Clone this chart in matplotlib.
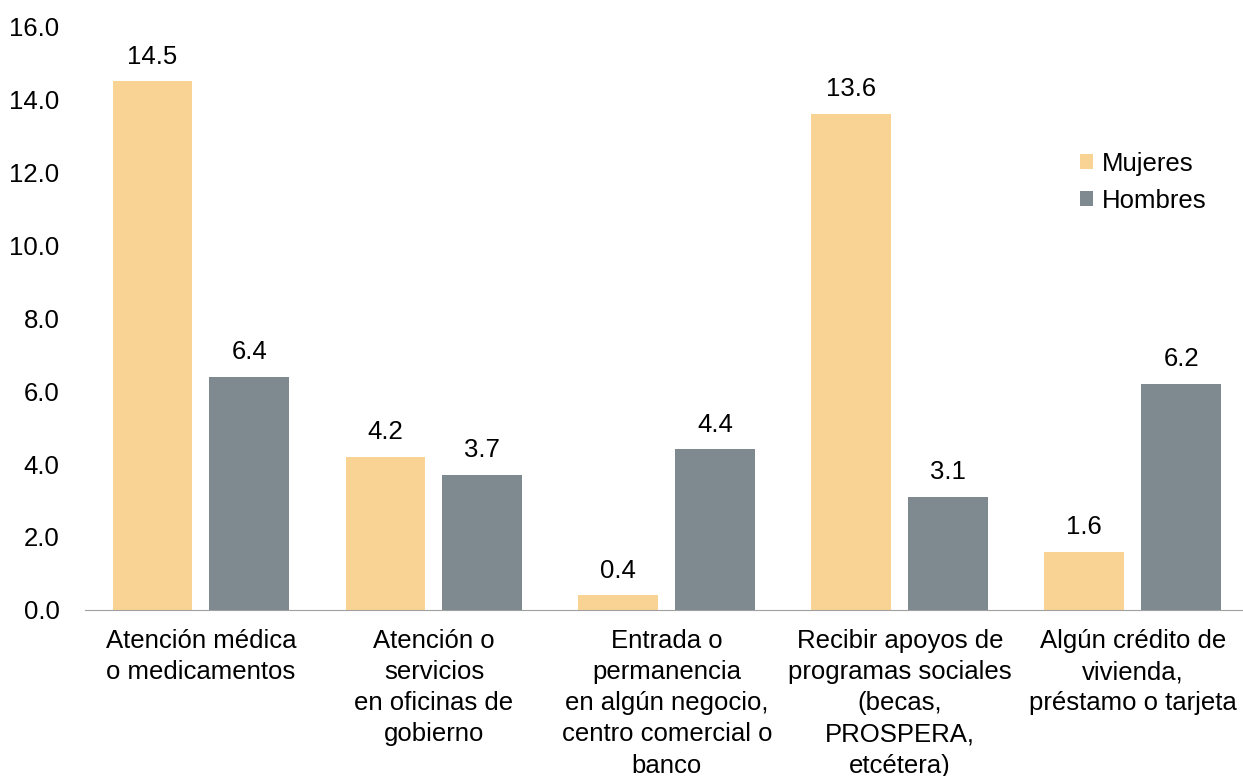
import numpy as np
import matplotlib.pyplot as plt

plt.rcParams['font.family'] = ['Liberation Sans', 'DejaVu Sans']

categorias = ["Atención médica\no medicamentos",
              "Atención o\nservicios\nen oficinas de\ngobierno",
              "Entrada o\npermanencia\nen algún negocio,\ncentro comercial o\nbanco",
              "Recibir apoyos de\nprogramas sociales\n(becas,\nPROSPERA,\netcétera)",
              "Algún crédito de\nvivienda,\npréstamo o tarjeta"]
mujeres = [14.5, 4.2, 0.4, 13.6, 1.6]
hombres = [6.4, 3.7, 4.4, 3.1, 6.2]

c_muj = '#F9D393'
c_hom = '#7F8A90'
fs = 18.5

fig = plt.figure(figsize=(12.43, 7.76), dpi=100)
ax = fig.add_axes([0.068, 0.214, 0.937, 0.752])

x = np.arange(len(categorias))
w = 0.343
off = 0.208
b1 = ax.bar(x - off, mujeres, w, color=c_muj, label='Mujeres')
b2 = ax.bar(x + off, hombres, w, color=c_hom, label='Hombres')

for bars, vals in [(b1, mujeres), (b2, hombres)]:
    for b, v in zip(bars, vals):
        ax.annotate(f"{v:.1f}", (b.get_x() + b.get_width() / 2, v),
                    xytext=(0, 9), textcoords='offset points',
                    ha='center', va='bottom', fontsize=fs)

ax.set_xlim(-0.5, 4.5)
ax.set_ylim(0, 16)
ax.set_yticks(np.arange(0, 17, 2))
ax.set_yticklabels([f"{v:.1f}" for v in np.arange(0, 17, 2)], fontsize=fs)
ax.set_xticks(x)
ax.set_xticklabels(categorias, fontsize=fs, linespacing=1.37, va='top')
ax.tick_params(axis='x', length=0, pad=14)
ax.tick_params(axis='y', length=0, pad=18)
for s in ['left', 'right', 'top']:
    ax.spines[s].set_visible(False)
ax.spines['bottom'].set_color('#A0A0A0')

ax.legend(loc='upper right', bbox_to_anchor=(0.963, 0.785), frameon=False,
          fontsize=fs, handlelength=0.5, handleheight=0.5, handletextpad=0.35,
          labelspacing=0.5, borderaxespad=0, borderpad=0)

fig.savefig('out.png', dpi=100)
